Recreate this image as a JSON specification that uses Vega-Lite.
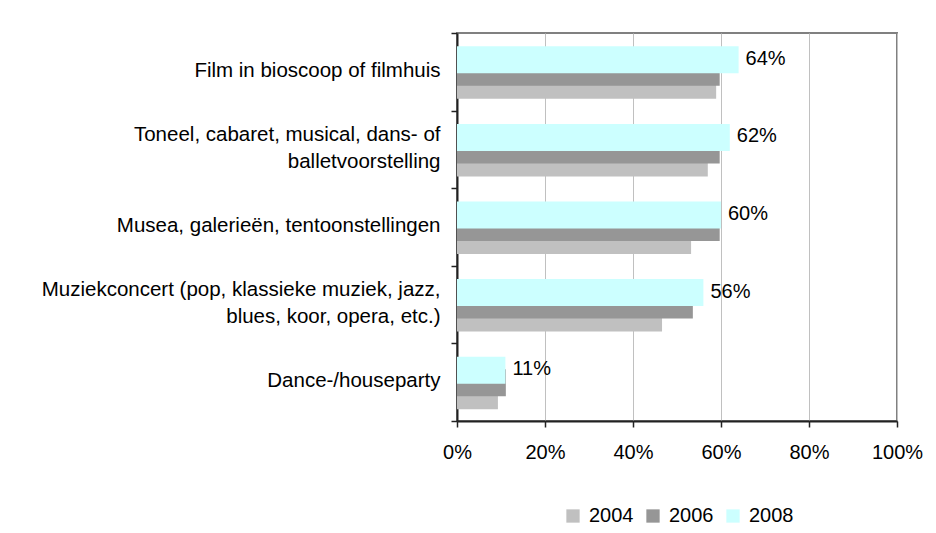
{
  "$schema": "https://vega.github.io/schema/vega-lite/v6.json",
  "width": 440,
  "height": 388,
  "autosize": {"type": "none"},
  "padding": {"left": 457, "top": 33, "right": 39, "bottom": 112},
  "background": "white",
  "config": {
    "font": "Liberation Sans",
    "view": {"stroke": "#808080", "strokeWidth": 2},
    "axis": {"labelFont": "Liberation Sans", "labelColor": "black", "domainColor": "#222222", "domainWidth": 2, "tickColor": "#222222", "tickWidth": 1.5}
  },
  "data": {
    "values": [
      {"activity": "Film in bioscoop of filmhuis", "year": "2004", "value": 0.589},
      {"activity": "Film in bioscoop of filmhuis", "year": "2006", "value": 0.597},
      {"activity": "Film in bioscoop of filmhuis", "year": "2008", "value": 0.64},
      {"activity": "Toneel, cabaret, musical, dans- of\nballetvoorstelling", "year": "2004", "value": 0.57},
      {"activity": "Toneel, cabaret, musical, dans- of\nballetvoorstelling", "year": "2006", "value": 0.597},
      {"activity": "Toneel, cabaret, musical, dans- of\nballetvoorstelling", "year": "2008", "value": 0.62},
      {"activity": "Musea, galerieën, tentoonstellingen", "year": "2004", "value": 0.532},
      {"activity": "Musea, galerieën, tentoonstellingen", "year": "2006", "value": 0.597},
      {"activity": "Musea, galerieën, tentoonstellingen", "year": "2008", "value": 0.60},
      {"activity": "Muziekconcert (pop, klassieke muziek, jazz,\nblues, koor, opera, etc.)", "year": "2004", "value": 0.466},
      {"activity": "Muziekconcert (pop, klassieke muziek, jazz,\nblues, koor, opera, etc.)", "year": "2006", "value": 0.536},
      {"activity": "Muziekconcert (pop, klassieke muziek, jazz,\nblues, koor, opera, etc.)", "year": "2008", "value": 0.56},
      {"activity": "Dance-/houseparty", "year": "2004", "value": 0.093},
      {"activity": "Dance-/houseparty", "year": "2006", "value": 0.111},
      {"activity": "Dance-/houseparty", "year": "2008", "value": 0.11}
    ]
  },
  "encoding": {
    "y": {
      "field": "activity",
      "type": "nominal",
      "sort": null,
      "scale": {"paddingInner": 0, "paddingOuter": 0},
      "axis": {
        "title": null,
        "labelExpr": "length(split(datum.label, '\\n')) > 1 ? [split(datum.label, '\\n')[0], '\u2800', split(datum.label, '\\n')[1]] : ['\u2800', datum.label]",
        "labelFontSize": 20.5,
        "labelLineHeight": 13.5,
        "labelLimit": 0,
        "tickSize": 6,
        "tickBand": "extent",
        "labelPadding": 11,
        "labelOffset": -15
      }
    },
    "x": {
      "field": "value",
      "type": "quantitative",
      "scale": {"domain": [0, 1], "nice": false},
      "axis": {
        "title": null,
        "format": ".0%",
        "values": [0, 0.2, 0.4, 0.6, 0.8, 1],
        "grid": true,
        "gridColor": "#c0c0c0",
        "gridWidth": 1,
        "labelFontSize": 20,
        "labelPadding": 15,
        "tickSize": 6,
        "labelFlush": false
      }
    },
    "color": {
      "field": "year",
      "type": "nominal",
      "scale": {"domain": ["2004", "2006", "2008"], "range": ["#c0c0c0", "#969696", "#ccffff"]},
      "legend": {
        "title": null,
        "orient": "none",
        "direction": "horizontal",
        "legendX": 106,
        "legendY": 473,
        "padding": 0,
        "symbolType": "square",
        "symbolSize": 177,
        "symbolStrokeWidth": 0,
        "symbolOpacity": 1,
        "labelFontSize": 20,
        "labelColor": "black",
        "labelOffset": 6,
        "columnPadding": 9
      }
    }
  },
  "layer": [
    {
      "transform": [{"filter": "datum.year == '2004'"}],
      "mark": {"type": "bar", "height": 27, "yOffset": 13.5}
    },
    {
      "transform": [{"filter": "datum.year == '2006'"}],
      "mark": {"type": "bar", "height": 27, "yOffset": 0.5}
    },
    {
      "transform": [{"filter": "datum.year == '2008'"}],
      "mark": {"type": "bar", "height": 27, "yOffset": -12}
    },
    {
      "transform": [{"filter": "datum.year == '2008'"}],
      "mark": {"type": "text", "align": "left", "baseline": "middle", "dx": 7, "yOffset": -13, "fontSize": 20, "color": "black"},
      "encoding": {
        "text": {"field": "value", "type": "quantitative", "format": ".0%"},
        "color": {"value": "black"}
      }
    }
  ]
}
